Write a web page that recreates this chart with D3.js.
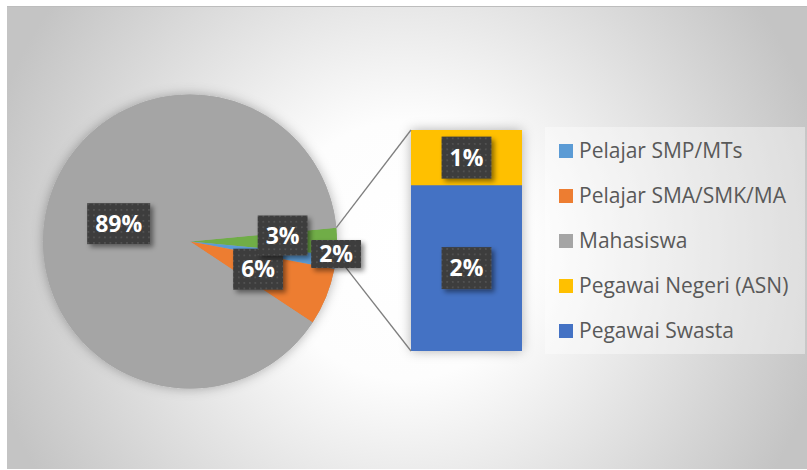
<!DOCTYPE html>
<html>
<head>
<meta charset="utf-8">
<script src="https://cdn.jsdelivr.net/npm/d3@7"></script>
<style>
  html, body { margin: 0; padding: 0; background: #ffffff; }
  svg { display: block; }
</style>
</head>
<body>
<svg id="chart" width="807" height="470"></svg>
<script>
// ---------- data ----------
const pieCategories = ["Pelajar SMP/MTs", "Pelajar SMA/SMK/MA", "Mahasiswa"];
const pieValues = [1.5, 6.3, 89.2];
const barCategories = ["Pegawai Negeri (ASN)", "Pegawai Swasta"];
const barValues = [0.75, 2.25];
const legendLabels = ["Pelajar SMP/MTs", "Pelajar SMA/SMK/MA", "Mahasiswa", "Pegawai Negeri (ASN)", "Pegawai Swasta"];
const legendColors = ["#5b9bd5", "#ed7d31", "#a5a5a5", "#ffc000", "#4472c4"];
const otherColor = "#70ad47";

// ---------- layout ----------
const W = 807, H = 470;
const frame = {x: 7, y: 6, w: 800, h: 463};
const pieC = {x: 190, y: 241.5}, R = 147;
const bar = {x0: 411, x1: 522, top: 130, bottom: 351};

const svg = d3.select("#chart");
const defs = svg.append("defs");

const bg = defs.append("radialGradient").attr("id", "bgGrad")
  .attr("gradientUnits", "userSpaceOnUse")
  .attr("cx", 405).attr("cy", 250).attr("r", 430);
bg.append("stop").attr("offset", 0).attr("stop-color", "#ffffff");
bg.append("stop").attr("offset", 0.3).attr("stop-color", "#fdfdfd");
bg.append("stop").attr("offset", 1).attr("stop-color", "#c4c4c4");

const soft = defs.append("filter").attr("id", "softShadow")
  .attr("x", "-20%").attr("y", "-20%").attr("width", "140%").attr("height", "140%");
soft.append("feDropShadow").attr("dx", 0).attr("dy", 0).attr("stdDeviation", 6)
  .attr("flood-color", "#000").attr("flood-opacity", 0.3);

const lblShadow = defs.append("filter").attr("id", "lblShadow")
  .attr("x", "-30%").attr("y", "-30%").attr("width", "160%").attr("height", "160%");
lblShadow.append("feDropShadow").attr("dx", 3).attr("dy", 3).attr("stdDeviation", 2.5)
  .attr("flood-color", "#000").attr("flood-opacity", 0.45);

const pat = defs.append("pattern").attr("id", "dots")
  .attr("patternUnits", "userSpaceOnUse").attr("width", 5.5).attr("height", 5.5);
pat.append("rect").attr("width", 5.5).attr("height", 5.5).attr("fill", "#3c3c3c");
pat.append("circle").attr("cx", 2.75).attr("cy", 2.75).attr("r", 1).attr("fill", "#565656");

// background
svg.append("rect").attr("x", frame.x).attr("y", frame.y).attr("width", frame.w).attr("height", frame.h)
  .attr("fill", "url(#bgGrad)");
svg.append("line").attr("x1", frame.x).attr("x2", frame.x + frame.w).attr("y1", frame.y + 0.5).attr("y2", frame.y + 0.5)
  .attr("stroke", "#bdbdbd").attr("stroke-width", 1);

// ---------- pie ----------
const otherTotal = d3.sum(barValues);
const total = d3.sum(pieValues) + otherTotal;
const pieData = [{name: "Other", value: otherTotal, color: otherColor}]
  .concat(pieCategories.map((c, i) => ({name: c, value: pieValues[i], color: legendColors[i]})));
const otherSpan = 2 * Math.PI * otherTotal / total;
const start = Math.PI / 2 - otherSpan / 2;
const arcs = d3.pie().sort(null).value(d => d.value)
  .startAngle(start).endAngle(start + 2 * Math.PI)(pieData);
const arc = d3.arc().innerRadius(0).outerRadius(R);

const pieG = svg.append("g").attr("transform", `translate(${pieC.x},${pieC.y})`);
pieG.append("circle").attr("r", R).attr("fill", "#a5a5a5").attr("filter", "url(#softShadow)");
pieG.selectAll("path.slice").data(arcs).join("path").attr("class", "slice")
  .attr("d", arc).attr("fill", d => d.data.color);

// ---------- bar ----------
const yScale = d3.scaleLinear().domain([0, otherTotal]).range([bar.bottom, bar.top]);
const xScale = d3.scaleBand().domain(["Other"]).range([bar.x0, bar.x1]).padding(0);
const stackOrder = [barCategories[1], barCategories[0]]; // bottom to top
const barColors = {[barCategories[0]]: legendColors[3], [barCategories[1]]: legendColors[4]};
const barVal = {[barCategories[0]]: barValues[0], [barCategories[1]]: barValues[1]};
let acc = 0;
const segs = stackOrder.map(name => { const s = {name, y0: acc, y1: acc + barVal[name]}; acc += barVal[name]; return s; });

svg.append("rect").attr("x", xScale("Other")).attr("y", yScale(otherTotal))
  .attr("width", xScale.bandwidth()).attr("height", yScale(0) - yScale(otherTotal))
  .attr("fill", "#4472c4").attr("filter", "url(#softShadow)");
svg.selectAll("rect.seg").data(segs).join("rect").attr("class", "seg")
  .attr("x", xScale("Other")).attr("width", xScale.bandwidth())
  .attr("y", d => yScale(d.y1)).attr("height", d => yScale(d.y0) - yScale(d.y1))
  .attr("fill", d => barColors[d.name]);

// connector lines
const oa = arcs[0];
const pt = a => [pieC.x + R * Math.sin(a), pieC.y - R * Math.cos(a)];
const p1 = pt(oa.startAngle), p2 = pt(oa.endAngle);
svg.append("line").attr("x1", p1[0]).attr("y1", p1[1]).attr("x2", xScale("Other")).attr("y2", yScale(otherTotal))
  .attr("stroke", "#7f7f7f").attr("stroke-width", 1.3);
svg.append("line").attr("x1", p2[0]).attr("y1", p2[1]).attr("x2", xScale("Other")).attr("y2", yScale(0))
  .attr("stroke", "#7f7f7f").attr("stroke-width", 1.3);

// ---------- labels ----------
const fmt = v => Math.round(v / total * 100) + "%";
const labelG = svg.append("g");
function drawLabel(x, y, text, h) {
  const g = labelG.append("g").attr("transform", `translate(${x},${y})`);
  const r = g.append("rect").attr("fill", "url(#dots)").attr("filter", "url(#lblShadow)");
  const t = g.append("text").text(text).attr("text-anchor", "middle").attr("dy", "0.36em")
    .attr("font-family", "'Open Sans', sans-serif").attr("font-weight", "bold")
    .attr("font-size", 23).attr("fill", "#ffffff");
  const w = t.node().getComputedTextLength() + 16;
  r.attr("x", -w / 2).attr("y", -h / 2).attr("width", w).attr("height", h);
}
// label placement (fraction of radius along slice mid-angle, plus nudge)
const lblPlace = {
  "Other": {f: 0.63, dx: 0, dy: -6, h: 40},
  "Pelajar SMP/MTs": {f: 0.99, dx: 2, dy: -8, h: 28},
  "Pelajar SMA/SMK/MA": {f: 0.5, dx: 0, dy: 0, h: 41},
  "Mahasiswa": {f: 0.5, dx: 0, dy: 0, h: 41}
};
const order = ["Mahasiswa", "Pelajar SMA/SMK/MA", "Other", "Pelajar SMP/MTs"];
order.forEach(name => {
  const a = arcs.find(d => d.data.name === name);
  const p = lblPlace[name];
  const mid = (a.startAngle + a.endAngle) / 2;
  const x = pieC.x + p.f * R * Math.sin(mid) + p.dx;
  const y = pieC.y - p.f * R * Math.cos(mid) + p.dy;
  drawLabel(x, y, fmt(a.data.value), p.h);
});
segs.forEach(s => {
  drawLabel(xScale("Other") + xScale.bandwidth() / 2, (yScale(s.y0) + yScale(s.y1)) / 2, fmt(barVal[s.name]), 42);
});

// ---------- legend ----------
svg.append("rect").attr("x", 545).attr("y", 127).attr("width", 260).attr("height", 227)
  .attr("fill", "#ffffff").attr("fill-opacity", 0.4);
const leg = svg.append("g").attr("transform", "translate(559,151)");
const li = leg.selectAll("g").data(legendLabels).join("g")
  .attr("transform", (d, i) => `translate(0,${i * 45})`);
li.append("rect").attr("x", 0).attr("y", -7).attr("width", 14).attr("height", 14)
  .attr("fill", (d, i) => legendColors[i]);
li.append("text").attr("x", 20).attr("dy", "0.35em").text(d => d)
  .attr("font-family", "'Open Sans', sans-serif").attr("font-size", 21).attr("fill", "#595959");
</script>
</body>
</html>
